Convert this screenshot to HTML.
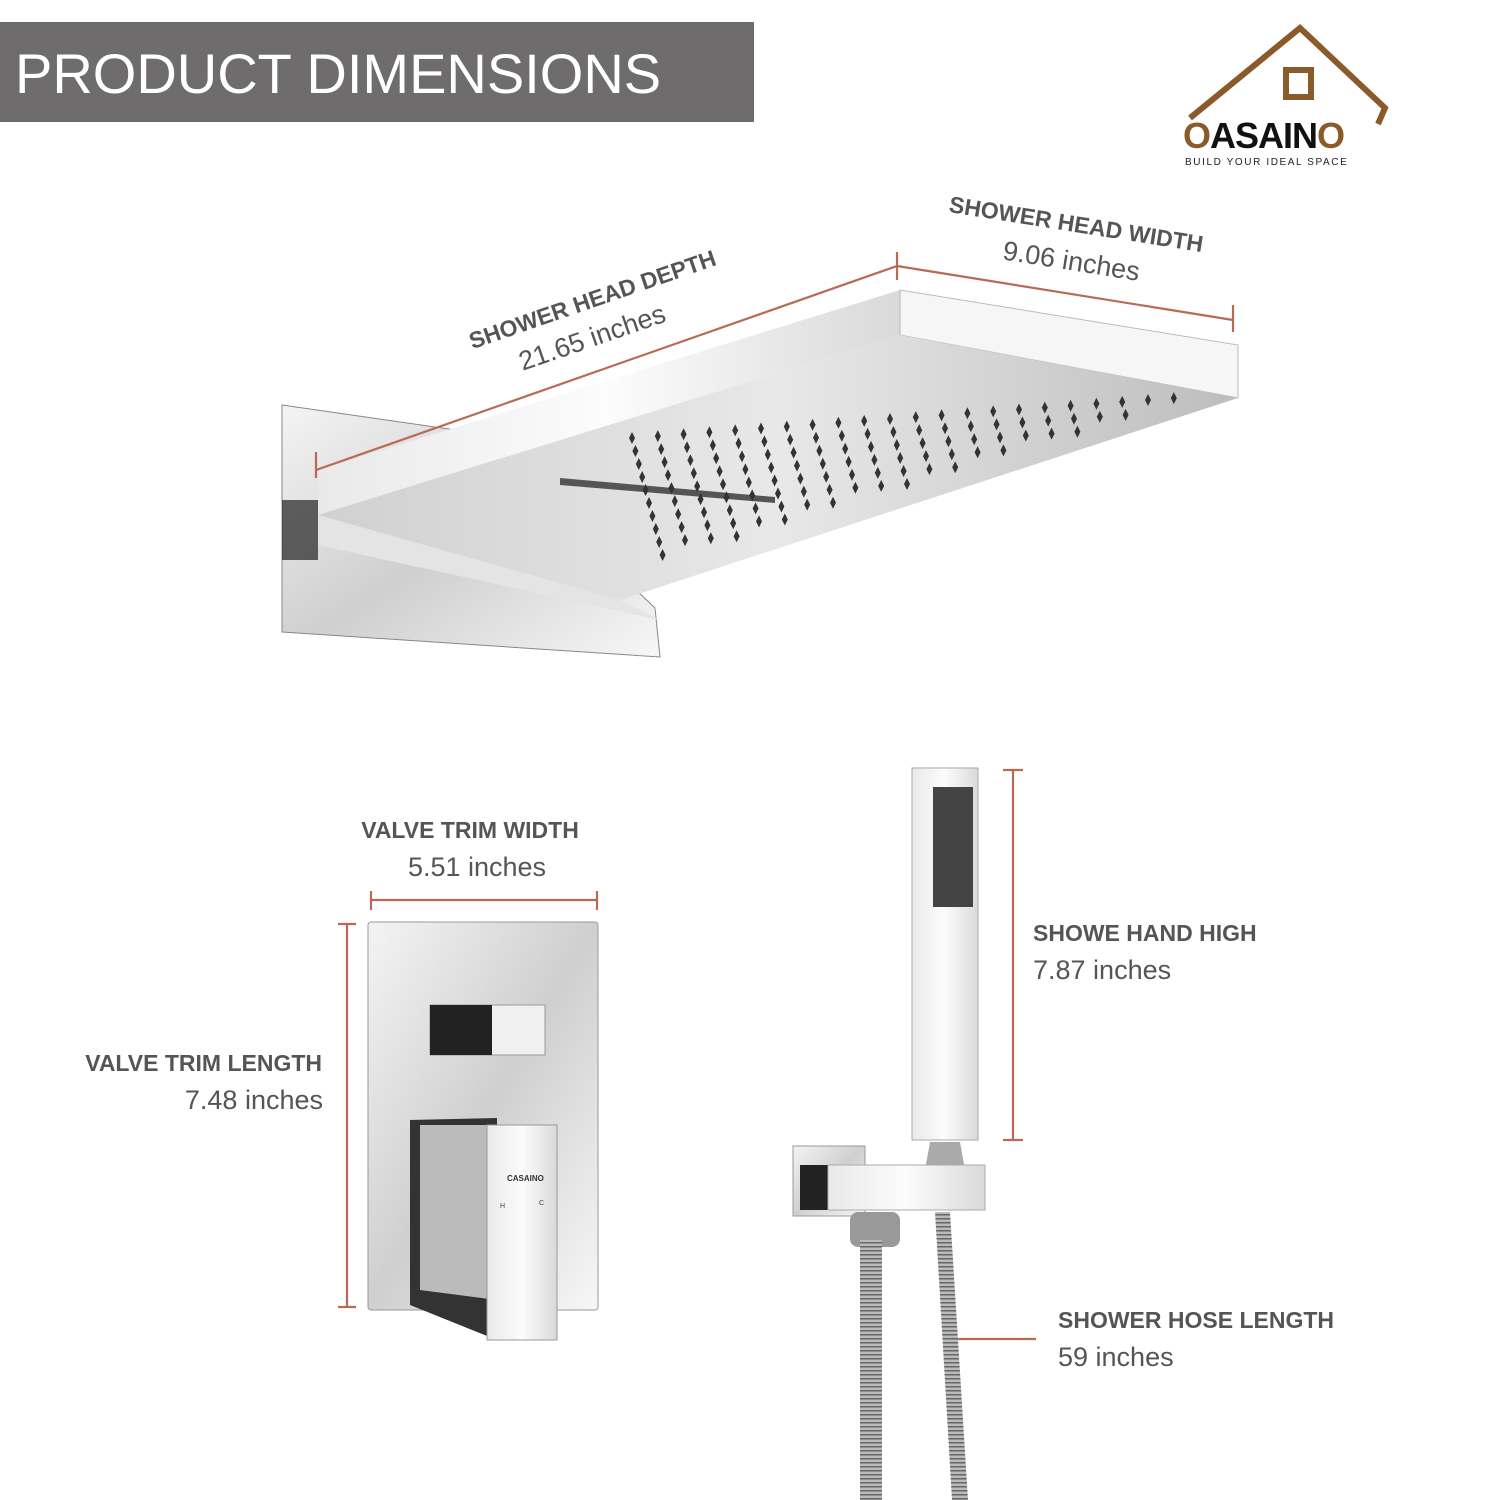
<!DOCTYPE html>
<html><head><meta charset="utf-8"><style>
html,body{margin:0;padding:0;background:#fff;}
svg{display:block;font-family:"Liberation Sans",sans-serif;}
</style></head><body>
<svg width="1500" height="1500" viewBox="0 0 1500 1500" xmlns="http://www.w3.org/2000/svg">
<defs>
<linearGradient id="chr" x1="0" y1="0" x2="1" y2="1"><stop offset="0" stop-color="#f4f4f4"/><stop offset="0.5" stop-color="#cfcfcf"/><stop offset="1" stop-color="#f7f7f7"/></linearGradient>
<linearGradient id="chr2" x1="0" y1="0" x2="1" y2="0"><stop offset="0" stop-color="#e9e9e9"/><stop offset="0.5" stop-color="#fcfcfc"/><stop offset="1" stop-color="#d9d9d9"/></linearGradient>
<linearGradient id="noz" x1="0" y1="0" x2="1" y2="0"><stop offset="0" stop-color="#d0d0d0"/><stop offset="0.5" stop-color="#e8e8e8"/><stop offset="1" stop-color="#bdbdbd"/></linearGradient>
<pattern id="hose" width="6" height="4" patternUnits="userSpaceOnUse"><rect width="6" height="4" fill="#bbb"/><rect y="2" width="6" height="1.5" fill="#666"/></pattern>
</defs>
<rect x="0" y="22" width="754" height="100" fill="#6e6c6d"/>
<text x="15" y="93" font-size="56" fill="#fff">PRODUCT DIMENSIONS</text>

<!-- logo -->
<g stroke="#8b5a2b" stroke-width="6" fill="none">
<polyline points="1190,118 1300,28 1385,108 1378,124"/>
<rect x="1286" y="70" width="25" height="27"/>
</g>
<text x="1183" y="148" font-size="36" font-weight="bold" fill="#111" letter-spacing="-1"><tspan fill="#8b5a2b">O</tspan>ASAIN<tspan fill="#8b5a2b">O</tspan></text>
<text x="1185" y="165" font-size="10" fill="#222" letter-spacing="1.6">BUILD YOUR IDEAL SPACE</text>

<!-- shower head -->
<polygon points="282,405 470,432 655,608 660,657 282,632" fill="url(#chr)" stroke="#888" stroke-width="1"/>
<polygon points="282,500 318,500 318,560 282,560" fill="#222" opacity="0.7"/>
<polygon points="318,470 900,290 900,335 318,515" fill="url(#chr2)"/>
<polygon points="900,290 1238,345 1238,398 900,335" fill="#f6f6f6" stroke="#bbb"/>
<polygon points="900,335 1238,398 620,600 318,515" fill="url(#noz)"/>
<polygon points="318,515 620,600 660,620 318,545" fill="#e4e4e4"/>
<polygon points="560,478 775,497 775,503 560,485" fill="#555"/>
<g id="dots" fill="#333"></g>

<!-- dimension lines -->
<g stroke="#b86a55" stroke-width="2.2">
<line x1="316" y1="470" x2="897" y2="266"/>
<line x1="316" y1="452" x2="316" y2="478"/>
<line x1="897" y1="252" x2="897" y2="280"/>
<line x1="897" y1="266" x2="1233" y2="320"/>
<line x1="1233" y1="305" x2="1233" y2="332"/>
<line x1="371" y1="900" x2="597" y2="900"/>
<line x1="371" y1="891" x2="371" y2="910"/>
<line x1="597" y1="891" x2="597" y2="910"/>
<line x1="347" y1="924" x2="347" y2="1307"/>
<line x1="338" y1="924" x2="356" y2="924"/>
<line x1="338" y1="1307" x2="356" y2="1307"/>
<line x1="1013" y1="770" x2="1013" y2="1140"/>
<line x1="1003" y1="770" x2="1023" y2="770"/>
<line x1="1003" y1="1140" x2="1023" y2="1140"/>
<line x1="955" y1="1339" x2="1036" y2="1339"/>
</g>

<g fill="#555">
<text transform="translate(595,307) rotate(-19)" text-anchor="middle" font-size="23" font-weight="bold">SHOWER HEAD DEPTH</text>
<text transform="translate(595,346) rotate(-19)" text-anchor="middle" font-size="27">21.65 inches</text>
<text transform="translate(1075,232) rotate(9)" text-anchor="middle" font-size="23" font-weight="bold">SHOWER HEAD WIDTH</text>
<text transform="translate(1070,270) rotate(9)" text-anchor="middle" font-size="27">9.06 inches</text>
<text x="470" y="838" text-anchor="middle" font-size="23" font-weight="bold">VALVE TRIM WIDTH</text>
<text x="477" y="876" text-anchor="middle" font-size="27">5.51 inches</text>
<text x="322" y="1071" text-anchor="end" font-size="23" font-weight="bold">VALVE TRIM LENGTH</text>
<text x="323" y="1109" text-anchor="end" font-size="27">7.48 inches</text>
<text x="1033" y="941" font-size="23" font-weight="bold">SHOWE HAND HIGH</text>
<text x="1033" y="979" font-size="27">7.87 inches</text>
<text x="1058" y="1328" font-size="23" font-weight="bold">SHOWER HOSE LENGTH</text>
<text x="1058" y="1366" font-size="27">59 inches</text>
</g>

<!-- valve -->
<rect x="368" y="922" width="230" height="388" rx="3" fill="url(#chr)" stroke="#999"/>
<rect x="430" y="1005" width="115" height="50" fill="#f0f0f0" stroke="#999"/>
<rect x="430" y="1005" width="62" height="50" fill="#222"/>
<polygon points="410,1120 497,1118 497,1340 410,1305" fill="#333"/>
<polygon points="420,1125 497,1125 497,1300 420,1290" fill="#bbb"/>
<rect x="487" y="1125" width="70" height="215" fill="url(#chr2)" stroke="#999"/>
<text x="507" y="1181" font-size="8" fill="#333" font-weight="bold">CASAINO</text>
<text x="500" y="1208" font-size="7" fill="#444">H</text>
<text x="539" y="1205" font-size="7" fill="#444">C</text>

<!-- hand shower -->
<rect x="912" y="768" width="66" height="372" fill="url(#chr2)" stroke="#aaa"/>
<rect x="933" y="787" width="40" height="120" fill="#444"/>
<polygon points="930,1142 960,1142 965,1170 925,1170" fill="#aaa"/>
<rect x="793" y="1146" width="72" height="70" fill="url(#chr)" stroke="#999"/>
<rect x="800" y="1165" width="30" height="45" fill="#222"/>
<rect x="828" y="1165" width="157" height="45" fill="url(#chr2)" stroke="#aaa"/>
<rect x="850" y="1212" width="50" height="35" rx="8" fill="#999"/>
<rect x="860" y="1240" width="22" height="260" fill="url(#hose)"/>
<polygon points="935,1212 950,1212 968,1500 952,1500" fill="url(#hose)"/>
</svg>
<script>
var g=document.getElementById('dots'),s='';
for(var c=0;c<22;c++){var x0=632+c*25.8,y0=438-c*1.9;
for(var r=0;r<12;r++){var x=x0+r*3.4,y=y0+r*13;if(y>560-c*7.5)break;
s+='<polygon points="'+x+','+(y-6)+' '+(x+3)+','+y+' '+x+','+(y+6)+' '+(x-3)+','+y+'"/>';}}
g.innerHTML=s;
</script>
</body></html>
